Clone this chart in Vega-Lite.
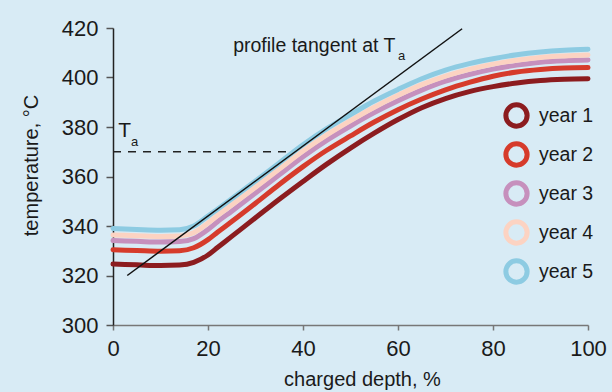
{
  "$schema": "https://vega.github.io/schema/vega-lite/v6.json",
  "width": 475,
  "height": 297,
  "autosize": {"type": "none"},
  "padding": {"left": 113, "top": 28, "right": 24, "bottom": 67},
  "background": "#d8ebf5",
  "config": {
    "view": {"stroke": null},
    "font": "Liberation Sans",
    "axis": {"grid": false, "labelFlush": false, "labelFont": "Liberation Sans", "labelFontSize": 22, "labelColor": "#1a1a1a", "titleFont": "Liberation Sans", "titleFontSize": 20, "titleFontWeight": "normal", "titleColor": "#1a1a1a"}
  },
  "datasets": {
    "curves": [
      {"x":0,"T":324.6,"year":"year 1"},{"x":5,"T":324.3,"year":"year 1"},{"x":10,"T":324.0,"year":"year 1"},{"x":14,"T":324.2,"year":"year 1"},{"x":17,"T":325.3,"year":"year 1"},{"x":20,"T":328.3,"year":"year 1"},{"x":22,"T":331.3,"year":"year 1"},{"x":25,"T":335.8,"year":"year 1"},{"x":30,"T":343.3,"year":"year 1"},{"x":35,"T":350.8,"year":"year 1"},{"x":40,"T":358,"year":"year 1"},{"x":45,"T":365,"year":"year 1"},{"x":50,"T":371.5,"year":"year 1"},{"x":55,"T":377.5,"year":"year 1"},{"x":60,"T":383,"year":"year 1"},{"x":65,"T":387.8,"year":"year 1"},{"x":70,"T":391.5,"year":"year 1"},{"x":75,"T":394.3,"year":"year 1"},{"x":80,"T":396.3,"year":"year 1"},{"x":85,"T":397.8,"year":"year 1"},{"x":90,"T":398.8,"year":"year 1"},{"x":95,"T":399.3,"year":"year 1"},{"x":100,"T":399.5,"year":"year 1"},
      {"x":0,"T":330.4,"year":"year 2"},{"x":5,"T":330.1,"year":"year 2"},{"x":10,"T":329.8,"year":"year 2"},{"x":14,"T":330,"year":"year 2"},{"x":17,"T":331.2,"year":"year 2"},{"x":20,"T":334.5,"year":"year 2"},{"x":22,"T":337.5,"year":"year 2"},{"x":25,"T":341.8,"year":"year 2"},{"x":30,"T":349.2,"year":"year 2"},{"x":35,"T":356.8,"year":"year 2"},{"x":40,"T":364,"year":"year 2"},{"x":45,"T":370.6,"year":"year 2"},{"x":50,"T":376.4,"year":"year 2"},{"x":55,"T":382,"year":"year 2"},{"x":60,"T":387,"year":"year 2"},{"x":65,"T":391.3,"year":"year 2"},{"x":70,"T":395,"year":"year 2"},{"x":75,"T":398,"year":"year 2"},{"x":80,"T":400.5,"year":"year 2"},{"x":85,"T":402.2,"year":"year 2"},{"x":90,"T":403.2,"year":"year 2"},{"x":95,"T":403.8,"year":"year 2"},{"x":100,"T":404,"year":"year 2"},
      {"x":0,"T":334.1,"year":"year 3"},{"x":5,"T":333.8,"year":"year 3"},{"x":10,"T":333.5,"year":"year 3"},{"x":14,"T":333.7,"year":"year 3"},{"x":17,"T":334.9,"year":"year 3"},{"x":20,"T":338.6,"year":"year 3"},{"x":22,"T":341.7,"year":"year 3"},{"x":25,"T":346,"year":"year 3"},{"x":30,"T":353.3,"year":"year 3"},{"x":35,"T":360.7,"year":"year 3"},{"x":40,"T":368,"year":"year 3"},{"x":45,"T":374.6,"year":"year 3"},{"x":50,"T":380.4,"year":"year 3"},{"x":55,"T":385.8,"year":"year 3"},{"x":60,"T":390.6,"year":"year 3"},{"x":65,"T":394.9,"year":"year 3"},{"x":70,"T":398.5,"year":"year 3"},{"x":75,"T":401.2,"year":"year 3"},{"x":80,"T":403.4,"year":"year 3"},{"x":85,"T":405,"year":"year 3"},{"x":90,"T":406.2,"year":"year 3"},{"x":95,"T":406.8,"year":"year 3"},{"x":100,"T":407.1,"year":"year 3"},
      {"x":0,"T":336.4,"year":"year 4"},{"x":5,"T":336.1,"year":"year 4"},{"x":10,"T":335.8,"year":"year 4"},{"x":14,"T":336,"year":"year 4"},{"x":17,"T":337.3,"year":"year 4"},{"x":20,"T":341.2,"year":"year 4"},{"x":22,"T":344.2,"year":"year 4"},{"x":25,"T":348.5,"year":"year 4"},{"x":30,"T":355.7,"year":"year 4"},{"x":35,"T":363,"year":"year 4"},{"x":40,"T":370.3,"year":"year 4"},{"x":45,"T":376.8,"year":"year 4"},{"x":50,"T":382.6,"year":"year 4"},{"x":55,"T":388,"year":"year 4"},{"x":60,"T":392.8,"year":"year 4"},{"x":65,"T":397.1,"year":"year 4"},{"x":70,"T":400.6,"year":"year 4"},{"x":75,"T":403.3,"year":"year 4"},{"x":80,"T":405.4,"year":"year 4"},{"x":85,"T":407,"year":"year 4"},{"x":90,"T":408.1,"year":"year 4"},{"x":95,"T":408.7,"year":"year 4"},{"x":100,"T":409.1,"year":"year 4"},
      {"x":0,"T":339,"year":"year 5"},{"x":5,"T":338.6,"year":"year 5"},{"x":10,"T":338.3,"year":"year 5"},{"x":14,"T":338.5,"year":"year 5"},{"x":17,"T":340,"year":"year 5"},{"x":20,"T":344,"year":"year 5"},{"x":22,"T":346.8,"year":"year 5"},{"x":25,"T":351,"year":"year 5"},{"x":30,"T":358.2,"year":"year 5"},{"x":35,"T":365.5,"year":"year 5"},{"x":40,"T":372.8,"year":"year 5"},{"x":45,"T":379.3,"year":"year 5"},{"x":50,"T":385,"year":"year 5"},{"x":55,"T":390.5,"year":"year 5"},{"x":60,"T":395.2,"year":"year 5"},{"x":65,"T":399.5,"year":"year 5"},{"x":70,"T":403,"year":"year 5"},{"x":75,"T":405.6,"year":"year 5"},{"x":80,"T":407.6,"year":"year 5"},{"x":85,"T":409.2,"year":"year 5"},{"x":90,"T":410.3,"year":"year 5"},{"x":95,"T":411,"year":"year 5"},{"x":100,"T":411.4,"year":"year 5"}
    ],
    "tangent": [{"x": 3, "T": 320}, {"x": 73.5, "T": 419.7}],
    "ta": [{"x": 0, "T": 370}, {"x": 37.8, "T": 370}]
  },
  "layer": [
    {
      "data": {"name": "ta"},
      "mark": {"type": "line", "color": "#222222", "strokeWidth": 1.5, "strokeDash": [8, 7]},
      "encoding": {
        "x": {"field": "x", "type": "quantitative", "scale": {"domain": [0, 100]},
          "axis": {"values": [0, 20, 40, 60, 80, 100], "title": "charged depth, %", "titleX": 249, "domainColor": "#777777", "domainWidth": 1.5, "tickColor": "#777777", "tickSize": 5, "tickWidth": 1.5, "labelPadding": 8, "titlePadding": 10}},
        "y": {"field": "T", "type": "quantitative", "scale": {"domain": [300, 420]},
          "axis": {"values": [300, 320, 340, 360, 380, 400, 420], "title": "temperature, °C", "titleY": 137, "domainColor": "#222222", "domainWidth": 1.5, "tickColor": "#555555", "tickSize": 7, "tickWidth": 1.5, "labelPadding": 8, "titlePadding": 20}}
      }
    },
    {
      "data": {"name": "curves"},
      "mark": {"type": "line", "strokeWidth": 5, "strokeCap": "round", "interpolate": "monotone"},
      "encoding": {
        "x": {"field": "x", "type": "quantitative"},
        "y": {"field": "T", "type": "quantitative"},
        "color": {"field": "year", "type": "nominal",
          "scale": {"domain": ["year 1", "year 2", "year 3", "year 4", "year 5"], "range": ["#8c1c1f", "#d63b2b", "#c690bd", "#fcd3c2", "#8dcbe2"]},
          "legend": {"title": null, "orient": "none", "legendX": 390, "legendY": 74, "padding": 0, "symbolType": "circle", "symbolSize": 452, "symbolStrokeWidth": 5, "symbolFillColor": "transparent", "labelFont": "Liberation Sans", "labelFontSize": 19.5, "labelColor": "#1a1a1a", "labelOffset": 9, "rowPadding": -4}}
      }
    },
    {
      "data": {"name": "tangent"},
      "mark": {"type": "line", "color": "#111111", "strokeWidth": 1.5},
      "encoding": {"x": {"field": "x", "type": "quantitative"}, "y": {"field": "T", "type": "quantitative"}}
    },
    {
      "data": {"values": [{}]},
      "mark": {"type": "text", "align": "left", "baseline": "alphabetic", "fontSize": 21, "color": "#1a1a1a", "text": "T"},
      "encoding": {"x": {"datum": 1.1}, "y": {"datum": 376}}
    },
    {
      "data": {"values": [{}]},
      "mark": {"type": "text", "align": "left", "baseline": "alphabetic", "fontSize": 13, "color": "#1a1a1a", "text": "a"},
      "encoding": {"x": {"datum": 3.8}, "y": {"datum": 372.3}}
    },
    {
      "data": {"values": [{}]},
      "mark": {"type": "text", "align": "left", "baseline": "alphabetic", "fontSize": 19.5, "color": "#1a1a1a", "text": "profile tangent at T"},
      "encoding": {"x": {"datum": 25.3}, "y": {"datum": 410.4}}
    },
    {
      "data": {"values": [{}]},
      "mark": {"type": "text", "align": "left", "baseline": "alphabetic", "fontSize": 13, "color": "#1a1a1a", "text": "a"},
      "encoding": {"x": {"datum": 60}, "y": {"datum": 407.1}}
    }
  ]
}
